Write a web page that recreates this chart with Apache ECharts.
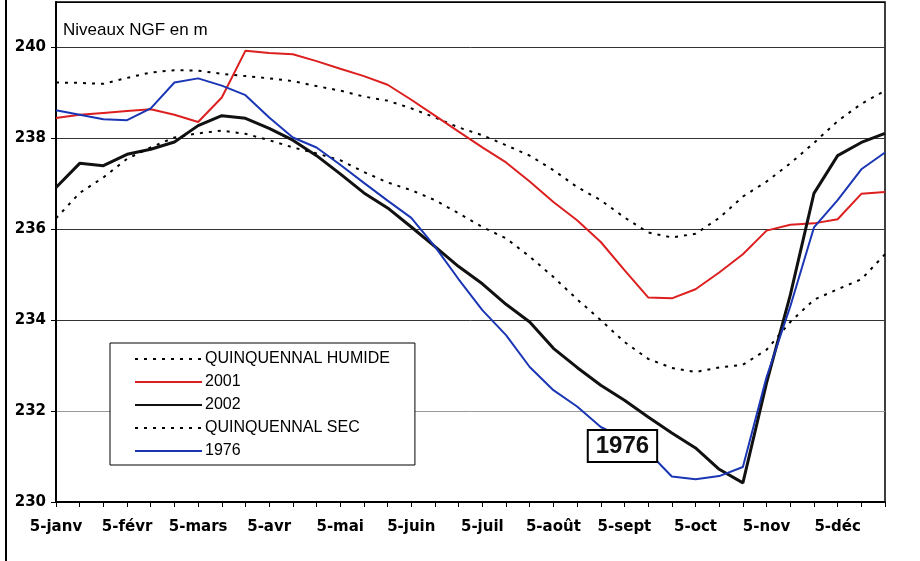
<!DOCTYPE html>
<html>
<head>
<meta charset="utf-8">
<script src="https://cdn.jsdelivr.net/npm/echarts@6/dist/echarts.min.js"></script>
<style>
  html, body { margin: 0; padding: 0; background: #fff; }
  #chart { width: 920px; height: 561px; }
</style>
</head>
<body>
<div id="chart"></div>
<script>
// décades : 5, 15, 25 de chaque mois
const months = ['janv', 'févr', 'mars', 'avr', 'mai', 'juin', 'juil', 'août', 'sept', 'oct', 'nov', 'déc']
const days = ['5', '15', '25']
const categories = []
months.forEach(m => days.forEach(d => categories.push(d + '-' + m)))

const humide = [239.23, 239.22, 239.2, 239.33, 239.45, 239.5, 239.49, 239.42, 239.37, 239.32, 239.26, 239.15,
  239.05, 238.92, 238.83, 238.66, 238.46, 238.24, 238.07, 237.85, 237.62, 237.3, 236.93, 236.64,
  236.26, 235.93, 235.82, 235.9, 236.25, 236.72, 237.05, 237.45, 237.9, 238.38, 238.76, 239.05]
const y2001 = [238.45, 238.52, 238.56, 238.6, 238.64, 238.52, 238.36, 238.9, 239.93, 239.88, 239.85, 239.7,
  239.53, 239.37, 239.18, 238.85, 238.5, 238.15, 237.8, 237.47, 237.05, 236.6, 236.2, 235.72,
  235.1, 234.5, 234.48, 234.68, 235.05, 235.45, 235.97, 236.1, 236.13, 236.22, 236.78, 236.82]
const y2002 = [236.92, 237.45, 237.4, 237.65, 237.76, 237.92, 238.28, 238.5, 238.44, 238.22, 237.96, 237.62,
  237.22, 236.8, 236.47, 236.05, 235.62, 235.18, 234.8, 234.35, 233.96, 233.38, 232.96, 232.57,
  232.24, 231.87, 231.52, 231.19, 230.72, 230.42, 232.62, 234.55, 236.79, 237.62, 237.91, 238.11]
const sec = [236.24, 236.8, 237.14, 237.55, 237.8, 238.02, 238.11, 238.17, 238.1, 237.96, 237.8, 237.67,
  237.52, 237.26, 237.03, 236.86, 236.64, 236.35, 236.05, 235.8, 235.4, 234.95, 234.46, 234.0,
  233.52, 233.15, 232.95, 232.86, 232.96, 233.02, 233.35, 233.96, 234.45, 234.68, 234.9, 235.45]
const y1976 = [238.62, 238.52, 238.42, 238.4, 238.66, 239.23, 239.32, 239.16, 238.95, 238.46, 238.02, 237.8,
  237.42, 237.02, 236.63, 236.25, 235.62, 234.9, 234.22, 233.67, 232.97, 232.46, 232.1, 231.65,
  231.4, 231.1, 230.56, 230.5, 230.57, 230.77, 232.75, 234.3, 236.04, 236.64, 237.32, 237.69]

const font = 'Arial, "Liberation Sans", sans-serif'
const axisFont = '"DejaVu Sans", Arial, sans-serif'
const dotted = { color: '#000', width: 2, type: [3, 6] }

const chart = echarts.init(document.getElementById('chart'))
chart.setOption({
  animation: false,
  textStyle: { fontFamily: font },
  title: {
    text: 'Niveaux NGF en m',
    left: 58,
    top: 17,
    textStyle: { fontSize: 17, fontWeight: 'normal', color: '#000', fontFamily: font }
  },
  graphic: [{
    type: 'line',
    shape: { x1: 6, y1: 0, x2: 6, y2: 561 },
    style: { stroke: '#000', lineWidth: 2 }
  }],
  grid: {
    left: 56,
    right: 35,
    top: 2,
    bottom: 59,
    show: true,
    borderColor: '#000',
    borderWidth: 1.5
  },
  legend: {
    orient: 'vertical',
    left: 110,
    top: 343,
    itemWidth: 67,
    itemHeight: 14,
    itemGap: 7,
    padding: [8, 25, 6, 24],
    backgroundColor: '#fff',
    borderColor: '#000',
    borderWidth: 1,
    itemStyle: { color: 'transparent', borderWidth: 0, opacity: 0 },
    textStyle: { fontSize: 16, color: '#000', fontFamily: font, padding: [0, 0, 0, -2] },
    data: ['QUINQUENNAL HUMIDE', '2001', '2002', 'QUINQUENNAL SEC', '1976']
  },
  xAxis: {
    type: 'category',
    boundaryGap: false,
    data: categories,
    axisLine: { lineStyle: { color: '#000', width: 2 } },
    axisTick: { show: true, interval: 0, length: 5, lineStyle: { color: '#000', width: 1 } },
    axisLabel: {
      interval: 2,
      margin: 18,
      fontSize: 15,
      fontWeight: 'bold',
      color: '#000',
      fontFamily: axisFont
    },
    splitLine: { show: false }
  },
  yAxis: {
    type: 'value',
    min: 230,
    max: 241,
    interval: 2,
    axisLine: { show: true, lineStyle: { color: '#000', width: 2 } },
    axisTick: { show: true, length: 5, lineStyle: { color: '#000' } },
    axisLabel: {
      showMaxLabel: false,
      margin: 10,
      fontSize: 15,
      fontWeight: 'bold',
      color: '#000',
      fontFamily: axisFont
    },
    splitLine: {
      show: true,
      lineStyle: { color: ['#000', '#999', '#333', '#333', '#333', '#333', '#000'], width: 1 }
    }
  },
  series: [
    {
      name: 'QUINQUENNAL HUMIDE',
      type: 'line',
      data: humide,
      symbol: 'none',
      lineStyle: dotted,
      itemStyle: { color: '#000' }
    },
    {
      name: '2001',
      type: 'line',
      data: y2001,
      symbol: 'none',
      lineStyle: { color: '#dc1f1f', width: 2 },
      itemStyle: { color: '#dc1f1f' }
    },
    {
      name: '2002',
      type: 'line',
      data: y2002,
      symbol: 'none',
      lineStyle: { color: '#111', width: 3 },
      itemStyle: { color: '#111' }
    },
    {
      name: 'QUINQUENNAL SEC',
      type: 'line',
      data: sec,
      symbol: 'none',
      lineStyle: dotted,
      itemStyle: { color: '#000' }
    },
    {
      name: '1976',
      type: 'line',
      data: y1976,
      symbol: 'none',
      lineStyle: { color: '#1a36b4', width: 2 },
      itemStyle: { color: '#1a36b4' },
      markPoint: {
        symbol: 'rect',
        symbolSize: 0,
        data: [{ coord: ['5-sept', 231.23] }],
        label: {
          show: true,
          position: 'inside',
          offset: [-2, 0],
          formatter: '1976',
          fontSize: 24,
          fontWeight: 'bold',
          color: '#111',
          fontFamily: font,
          backgroundColor: '#fff',
          borderColor: '#000',
          borderWidth: 2,
          padding: [4, 7, 2, 7]
        }
      }
    }
  ]
})
</script>
</body>
</html>
